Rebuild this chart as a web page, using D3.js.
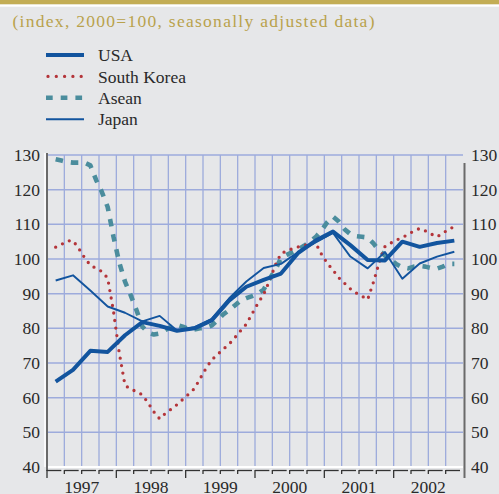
<!DOCTYPE html>
<html>
<head>
<meta charset="utf-8">
<script src="https://cdn.jsdelivr.net/npm/d3@7"></script>
<style>
  html, body { margin: 0; padding: 0; background: #e6e7e9; }
  svg { display: block; }
  text { font-family: "Liberation Serif", "Times New Roman", serif; }
</style>
</head>
<body>
<script>

// quarterly series, 1997Q1 .. 2002Q4 (plotted at mid-quarter)
var usa = [64.6, 68.0, 73.5, 73.2, 78.0, 81.8, 80.7, 79.3,
           80.0, 82.3, 88.0, 92.0, 94.0, 95.8, 101.8, 105.3,
           107.9, 104.0, 99.7, 99.6, 105.0, 103.5, 104.6, 105.3];
var japan = [93.8, 95.3, 90.9, 86.3, 84.5, 82.0, 83.6, 79.4,
             80.3, 82.7, 88.6, 93.5, 97.4, 98.6, 102.0, 104.8,
             107.5, 100.7, 97.3, 102.0, 94.3, 98.7, 100.7, 102.1];

// monthly series, Feb 1997 .. Nov 2002 (plotted at mid-month)
var korea = [103.4, 104.2, 105.2, 105.3, 103.0, 100.4, 98.2, 97.3, 96.4, 94.5, 85.0,
             73.0, 63.6, 62.4, 61.8, 60.8, 58.5, 55.9, 53.9, 55.5, 56.7, 58.0, 59.5,
             61.0, 62.6, 65.5, 68.4, 70.9, 72.4, 74.0, 75.4, 77.3, 79.3, 81.2, 84.2,
             87.2, 89.8, 93.7, 98.2, 101.6, 102.3, 103.0, 103.5, 103.8, 104.6, 104.6, 101.4,
             98.8, 96.8, 94.6, 93.0, 91.4, 90.2, 89.3, 88.3, 93.3, 99.0, 103.6, 104.6,
             105.5, 106.2, 107.1, 108.1, 108.8, 108.1, 107.2, 106.4, 107.4, 108.6, 109.3];
var asean = [128.8, 128.4, 128.0, 127.8, 127.8, 127.8, 127.0, 122.8, 119.3, 115.0, 106.5,
             99.0, 93.5, 89.5, 85.2, 80.5, 78.8, 78.2, 78.5, 79.5, 80.5, 81.0, 80.5,
             79.8, 79.7, 80.0, 80.2, 80.8, 82.3, 84.0, 85.2, 86.6, 88.0, 88.7, 89.3,
             90.0, 91.2, 94.2, 96.8, 100.3, 101.2, 102.0, 102.8, 103.8, 105.0, 106.3, 108.2,
             110.6, 112.2, 110.8, 108.6, 107.2, 106.6, 106.4, 106.2, 104.5, 102.4, 101.0, 99.8,
             98.5, 97.6, 97.3, 97.8, 98.0, 97.8, 97.4, 97.2, 97.8, 98.6, 98.6];

var years = [1997, 1998, 1999, 2000, 2001, 2002];
var yTicks = [40, 50, 60, 70, 80, 90, 100, 110, 120, 130];
var seriesNames = ["USA", "South Korea", "Asean", "Japan"];

var width = 499,
    height = 494,
    plotLeft = 47,
    plotRight = 463,
    plotTop = 155,
    plotBottom = 467;

var blue = "#12549e",
    red = "#b4353a",
    teal = "#4b8d9d",
    gold = "#b9a24c",
    grid = "#9dabdc";

var svg = d3.select("body").append("svg")
    .attr("width", width)
    .attr("height", height);

// header band
svg.append("rect").attr("x", 0).attr("y", 0).attr("width", width).attr("height", 4.5).attr("fill", "#c3ad55");
svg.append("rect").attr("x", 0).attr("y", 4.5).attr("width", width).attr("height", 2.2).attr("fill", "#ffffff");

svg.append("text")
    .attr("x", 12.5)
    .attr("y", 27)
    .attr("font-size", 17.5)
    .attr("fill", gold)
    .attr("textLength", 362)
    .attr("lengthAdjust", "spacing")
    .text("(index, 2000=100, seasonally adjusted data)");

var x = d3.scaleLinear().domain([1997, 2003]).range([plotLeft, plotRight]);
var y = d3.scaleLinear().domain([40, 130]).range([plotBottom, plotTop]);

var qTime = function(i) { return 1997 + (i + 0.5) / 4; };
var mTime = function(i) { return 1997 + (i + 1 + 0.5) / 12; };

// grid
var quarterLines = d3.range(1997.25, 2003, 0.25);
svg.append("g").selectAll("line")
    .data(quarterLines)
    .join("line")
    .attr("x1", function(d) { return x(d); })
    .attr("x2", function(d) { return x(d); })
    .attr("y1", plotTop)
    .attr("y2", plotBottom)
    .attr("stroke", grid)
    .attr("stroke-width", 1.3);

svg.append("g").selectAll("line")
    .data(yTicks.slice(1))
    .join("line")
    .attr("x1", plotLeft)
    .attr("x2", plotRight)
    .attr("y1", function(d) { return y(d); })
    .attr("y2", function(d) { return y(d); })
    .attr("stroke", grid)
    .attr("stroke-width", 1.5);

// white bottom edge of plot
svg.append("line")
    .attr("x1", plotLeft).attr("x2", plotRight)
    .attr("y1", plotBottom).attr("y2", plotBottom)
    .attr("stroke", "#ffffff").attr("stroke-width", 2);

// axes frames
svg.append("line")
    .attr("x1", plotLeft - 2).attr("x2", plotLeft - 2)
    .attr("y1", plotTop - 2).attr("y2", plotBottom)
    .attr("stroke", "#ffffff").attr("stroke-width", 1.5);
svg.append("line")
    .attr("x1", plotLeft).attr("x2", plotLeft)
    .attr("y1", plotTop - 2).attr("y2", plotBottom + 4)
    .attr("stroke", "#6a6a6a").attr("stroke-width", 2);
svg.append("line")
    .attr("x1", plotRight + 1.5).attr("x2", plotRight + 1.5)
    .attr("y1", plotTop + 8).attr("y2", plotBottom + 11)
    .attr("stroke", "#6a6a6a").attr("stroke-width", 2);

// bottom ticks, hooked style
var tickTimes = d3.range(1997, 2003, 0.25);
var ticks = svg.append("g");
tickTimes.forEach(function(t) {
    var isYear = Math.abs(t - Math.round(t)) < 1e-6;
    ticks.append("line")
        .attr("x1", x(t)).attr("x2", x(t))
        .attr("y1", plotBottom + 3).attr("y2", plotBottom + (isYear ? 11 : 7))
        .attr("stroke", "#333").attr("stroke-width", 1.3);
    ticks.append("line")
        .attr("x1", x(t)).attr("x2", x(t + 0.25) - 3)
        .attr("y1", plotBottom + 3.5).attr("y2", plotBottom + 3.5)
        .attr("stroke", "#333").attr("stroke-width", 1.3);
});

// y labels both sides
var yl = svg.append("g").attr("font-size", 17.5).attr("fill", "#2a2a2a");
yl.selectAll("text.l")
    .data(yTicks)
    .join("text")
    .attr("class", "l")
    .attr("x", 40)
    .attr("y", function(d) { return y(d); })
    .attr("dy", "0.34em")
    .attr("text-anchor", "end")
    .text(function(d) { return d; });
yl.selectAll("text.r")
    .data(yTicks)
    .join("text")
    .attr("class", "r")
    .attr("x", 471)
    .attr("y", function(d) { return y(d); })
    .attr("dy", "0.34em")
    .text(function(d) { return d; });

// year labels
svg.append("g").selectAll("text")
    .data(years)
    .join("text")
    .attr("x", function(d) { return x(d + 0.5); })
    .attr("y", 493)
    .attr("text-anchor", "middle")
    .attr("font-size", 17.5)
    .attr("fill", "#2a2a2a")
    .text(function(d) { return d; });

// lines
var line = d3.line()
    .x(function(d) { return x(d[0]); })
    .y(function(d) { return y(d[1]); });

var styles = {
    "USA":         { color: blue, width: 4, dash: null, cap: "butt" },
    "South Korea": { color: red, width: 3.3, dash: "0,7.6", cap: "round" },
    "Asean":       { color: teal, width: 4.6, dash: "7.5,8", cap: "butt" },
    "Japan":       { color: blue, width: 1.9, dash: null, cap: "butt" }
};

var seriesData = {
    "USA": usa.map(function(v, i) { return [qTime(i), v]; }),
    "Japan": japan.map(function(v, i) { return [qTime(i), v]; }),
    "South Korea": korea.map(function(v, i) { return [mTime(i), v]; }),
    "Asean": asean.map(function(v, i) { return [mTime(i), v]; })
};

["Asean", "South Korea", "Japan", "USA"].forEach(function(name) {
    var s = styles[name];
    svg.append("path")
        .datum(seriesData[name])
        .attr("d", line)
        .attr("fill", "none")
        .attr("stroke", s.color)
        .attr("stroke-width", s.width)
        .attr("stroke-dasharray", s.dash)
        .attr("stroke-linecap", s.cap)
        .attr("stroke-linejoin", "round");
});

// legend
var legend = svg.append("g");
seriesNames.forEach(function(name, i) {
    var s = styles[name];
    var ly = 55 + i * 21.4;
    legend.append("line")
        .attr("x1", name === "South Korea" ? 48 : 46)
        .attr("x2", 84)
        .attr("y1", ly).attr("y2", ly)
        .attr("stroke", s.color)
        .attr("stroke-width", s.width)
        .attr("stroke-dasharray", name === "South Korea" ? "0,8.3" : (name === "Asean" ? "6.7,8" : null))
        .attr("stroke-linecap", s.cap);
    legend.append("text")
        .attr("x", 98)
        .attr("y", ly + 6.2)
        .attr("font-size", 17.5)
        .attr("fill", "#2a2a2a")
        .text(name);
});

</script>
</body>
</html>
